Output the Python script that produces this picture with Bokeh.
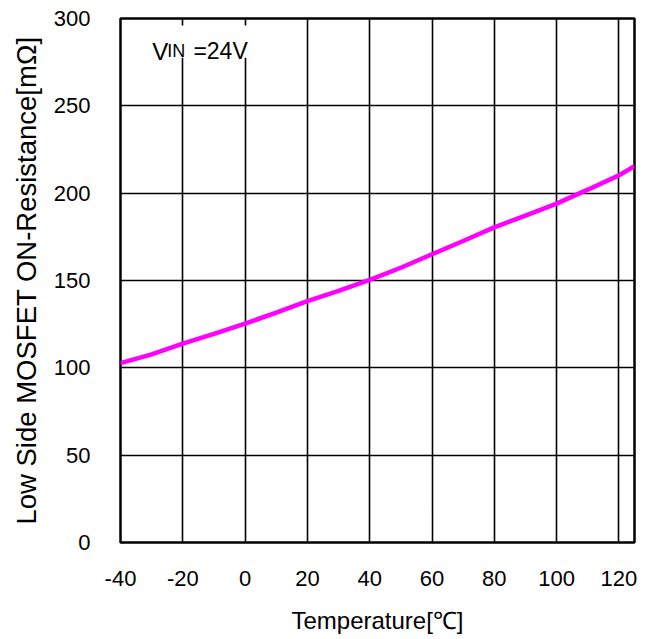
from bokeh.plotting import figure
from bokeh.models import Range1d, FixedTicker, Label, BoxAnnotation
from bokeh.embed import file_html
from bokeh.resources import INLINE

temperature = [-40, -30, -20, -10, 0, 10, 20, 30, 40, 50, 60, 70, 80, 90, 100, 110, 120, 125]
resistance = [102.7, 107.7, 113.8, 119.5, 125.3, 131.6, 138.2, 144.0, 150.4, 157.3, 165.0, 172.6, 180.4, 187.2, 194.0, 202.0, 210.2, 215.5]
x_ticks = [-40, -20, 0, 20, 40, 60, 80, 100, 120]
x_tick_labels = ["-40", "-20", "0", "20", "40", "60", "80", "100", "120"]
y_ticks = [0, 50, 100, 150, 200, 250, 300]

FONT = "Liberation Sans"

p = figure(width=646, height=639, output_backend="svg", toolbar_location=None,
           x_range=Range1d(-40, 125), y_range=Range1d(0, 300),
           min_border_left=120, min_border_top=18, min_border_right=12, min_border_bottom=97)

p.background_fill_color = "white"
p.border_fill_color = "white"
p.outline_line_color = "black"
p.outline_line_width = 2.5

for ax in (p.xaxis[0], p.yaxis[0]):
    ax.axis_line_color = None
    ax.major_tick_line_color = None
    ax.minor_tick_line_color = None
    ax.major_label_text_font = FONT
    ax.major_label_text_font_size = "22px"
    ax.major_label_text_color = "black"
    ax.axis_label_text_font = FONT
    ax.axis_label_text_font_style = "normal"
    ax.axis_label_text_color = "black"

p.xaxis.ticker = FixedTicker(ticks=x_ticks)
p.xaxis.major_label_overrides = {t: s for t, s in zip(x_ticks, x_tick_labels)}
p.yaxis.ticker = FixedTicker(ticks=y_ticks)
p.xaxis.major_label_standoff = 22
p.yaxis.major_label_standoff = 24
p.xaxis.axis_label = "Temperature[℃]"
p.yaxis.axis_label = "Low Side MOSFET ON-Resistance[mΩ]"
p.xaxis.axis_label_text_font_size = "24px"
p.yaxis.axis_label_text_font_size = "27.5px"
p.xaxis.axis_label_standoff = 18
p.yaxis.axis_label_standoff = 9

p.xgrid.ticker = FixedTicker(ticks=x_ticks)
p.ygrid.ticker = FixedTicker(ticks=y_ticks)
p.grid.grid_line_color = "black"
p.grid.grid_line_width = 1.6
p.grid.grid_line_alpha = 1.0

p.line(temperature, resistance, line_color="#FF00FF", line_width=4.5)

p.add_layout(BoxAnnotation(left=-32, right=1.7, bottom=277.5, top=296,
                           fill_color="white", fill_alpha=1.0, line_color=None))
p.add_layout(Label(x=-29.8, y=281.2, text="V", text_font=FONT, text_font_size="24px",
                   text_baseline="alphabetic", text_color="black"))
p.add_layout(Label(x=-25.0, y=281.2, text="IN", text_font=FONT, text_font_size="18px",
                   text_baseline="alphabetic", text_color="black"))
p.add_layout(Label(x=-16.6, y=281.2, text="=24V", text_font=FONT, text_font_size="23px",
                   text_baseline="alphabetic", text_color="black"))

open("out.html", "w").write(file_html(p, INLINE))
